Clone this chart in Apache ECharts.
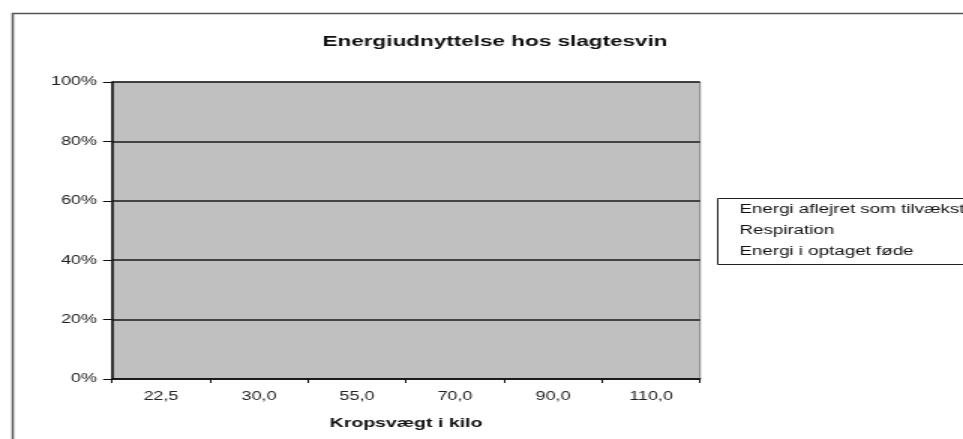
<!DOCTYPE html>
<html>
<head>
<meta charset="utf-8">
<script src="https://cdn.jsdelivr.net/npm/echarts@6/dist/echarts.min.js"></script>
<style>
  html, body { margin: 0; padding: 0; background: #fff; overflow: hidden; }
  /* the source picture is stretched sideways, so the chart is drawn narrow and widened */
  #main { width: 642px; height: 439px; transform: scaleX(1.5); transform-origin: 0 0; }
</style>
</head>
<body>
<div id="main"></div>
<script>
// kategorier (kropsvægt i kilo)
var categories = ['22,5', '30,0', '55,0', '70,0', '90,0', '110,0'];
// serier - ingen synlige værdier i figuren
var tilvaekst = [null, null, null, null, null, null];
var respiration = [null, null, null, null, null, null];
var optagetFoede = [null, null, null, null, null, null];
var seriesNames = ['Energi aflejret som tilvækst', 'Respiration', 'Energi i optaget føde'];
var yTicks = [0, 20, 40, 60, 80, 100];

var font = 'Liberation Sans, Arial, sans-serif';
var myChart = echarts.init(document.getElementById('main'), null, { renderer: 'canvas' });

myChart.setOption({
  animation: false,
  backgroundColor: '#fff',
  title: {
    text: 'Energiudnyttelse hos slagtesvin',
    left: 330,
    top: 34,
    padding: 0,
    textAlign: 'center',
    textStyle: { fontFamily: font, fontSize: 15, fontWeight: 'bold', color: '#111' }
  },
  grid: {
    left: 74.7,
    right: 642 - 466.7,
    top: 82,
    bottom: 439 - 379,
    show: true,
    backgroundColor: '#c0c0c0',
    borderColor: '#808080',
    borderWidth: 1
  },
  legend: {
    orient: 'vertical',
    left: 478,
    top: 198,
    padding: [5, 4, 5, 4],
    itemWidth: 6,
    itemHeight: 14,
    itemGap: 7,
    itemStyle: { opacity: 0 },
    textStyle: { fontFamily: font, fontSize: 12.5, color: '#111' },
    data: seriesNames
  },
  xAxis: {
    type: 'category',
    data: categories,
    name: 'Kropsvægt i kilo',
    nameLocation: 'middle',
    nameGap: 38,
    nameTextStyle: { fontFamily: font, fontSize: 13, fontWeight: 'bold', color: '#111' },
    axisLine: { lineStyle: { color: '#111', width: 1.5 } },
    axisTick: { show: true, length: 4, lineStyle: { color: '#111' } },
    axisLabel: { fontFamily: font, fontSize: 12, color: '#222', margin: 12 },
    splitLine: { show: false }
  },
  yAxis: {
    type: 'value',
    min: yTicks[0],
    max: yTicks[yTicks.length - 1],
    interval: yTicks[1] - yTicks[0],
    axisLine: { show: true, lineStyle: { color: '#111', width: 1.5 } },
    axisTick: { show: true, length: 6, lineStyle: { color: '#111' } },
    axisLabel: { fontFamily: font, fontSize: 12, color: '#222', margin: 10, formatter: '{value}%' },
    splitLine: { show: true, lineStyle: { color: '#1a1a1a', width: 1.5 } }
  },
  graphic: [{
    // ydre diagramramme
    type: 'rect',
    silent: true,
    z: -1,
    shape: { x: 8.5, y: 13.5, width: 700, height: 500 },
    style: { fill: 'none', stroke: '#555', lineWidth: 1.5 }
  }, {
    // forklaringsboks, løber ud over højre kant
    type: 'rect',
    silent: true,
    z: -1,
    shape: { x: 478.5, y: 198.5, width: 300, height: 66 },
    style: { fill: '#fff', stroke: '#222', lineWidth: 1 }
  }],
  series: [
    { name: seriesNames[0], type: 'bar', stack: 'energi', data: tilvaekst, itemStyle: { color: '#9999ff' } },
    { name: seriesNames[1], type: 'bar', stack: 'energi', data: respiration, itemStyle: { color: '#993366' } },
    { name: seriesNames[2], type: 'bar', stack: 'energi', data: optagetFoede, itemStyle: { color: '#ffffcc' } }
  ]
});
</script>
</body>
</html>
